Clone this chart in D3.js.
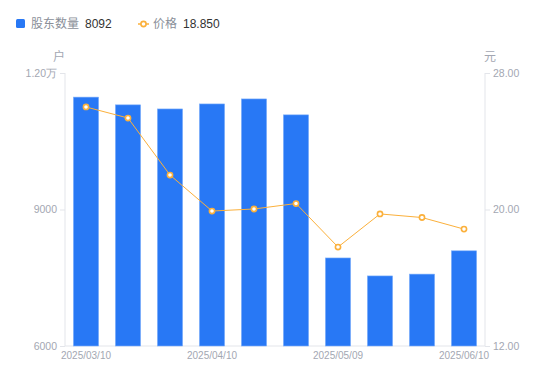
<!DOCTYPE html>
<html>
<head>
<meta charset="utf-8">
<script src="https://cdn.jsdelivr.net/npm/d3@7"></script>
<style>
  body { margin: 0; background: #fff; }
  svg { font-family: "Liberation Sans", "Noto Sans CJK SC", sans-serif; }
</style>
</head>
<body>
<div id="chart"></div>
<script>
// data
var dates = ['2025/03/10','2025/03/20','2025/03/31','2025/04/10','2025/04/18','2025/04/30','2025/05/09','2025/05/20','2025/05/30','2025/06/10'];
var holders = [11470, 11300, 11210, 11320, 11430, 11080, 7935, 7540, 7580, 8092];
var prices = [26.01, 25.36, 22.02, 19.91, 20.03, 20.35, 17.80, 19.74, 19.53, 18.85];
var leftTicks = [6000, 9000, 12000];
var rightTicks = [12, 20, 28];
var shownDates = ['2025/03/10','2025/04/10','2025/05/09','2025/06/10'];

var W = 550, H = 381;
var mLeft = 65, mRight = 485, mTop = 73, mBottom = 346;
var barColor = '#2878f5', lineColor = '#fbb03b', textColor = '#a3a7b2', axisColor = '#e3e5ea';

var svg = d3.select('#chart').append('svg')
	.attr('width', W)
	.attr('height', H);

var x = d3.scaleBand()
	.domain(dates)
	.range([mLeft, mRight])
	.paddingInner(0.4)
	.paddingOuter(0.2);

var yL = d3.scaleLinear().domain([6000, 12000]).range([mBottom, mTop]);
var yR = d3.scaleLinear().domain([12, 28]).range([mBottom, mTop]);

// axes
var leftAxis = d3.axisLeft(yL)
	.tickValues(leftTicks)
	.tickSize(5)
	.tickPadding(3)
	.tickFormat(function(d) { return d >= 10000 ? (d / 10000).toFixed(2) + '万' : d; });

var rightAxis = d3.axisRight(yR)
	.tickValues(rightTicks)
	.tickSize(5)
	.tickPadding(3)
	.tickFormat(function(d) { return d.toFixed(2); });

var gl = svg.append('g').attr('transform', 'translate(' + mLeft + ',0)').call(leftAxis);
var gr = svg.append('g').attr('transform', 'translate(' + mRight + ',0)').call(rightAxis);

[gl, gr].forEach(function(g) {
	g.select('.domain').attr('stroke', axisColor).attr('d', 'M0,' + mTop + 'V' + mBottom);
	g.selectAll('.tick line').attr('stroke', axisColor);
	g.selectAll('.tick text').attr('fill', textColor).style('font-size', '10.5px');
});

// bottom axis line
svg.append('line')
	.attr('x1', mLeft).attr('x2', mRight)
	.attr('y1', mBottom).attr('y2', mBottom)
	.attr('stroke', axisColor);

// date labels
var xAxis = d3.axisBottom(x).tickValues(shownDates).tickSize(0).tickPadding(6);
var gx = svg.append('g').attr('transform', 'translate(0,' + mBottom + ')').call(xAxis);
gx.select('.domain').remove();
gx.selectAll('.tick text').attr('fill', textColor).style('font-size', '10px');

// unit labels
svg.append('text').attr('x', 59).attr('y', 61).attr('text-anchor', 'middle')
	.attr('fill', textColor).style('font-size', '12px').text('户');
svg.append('text').attr('x', 490).attr('y', 61).attr('text-anchor', 'middle')
	.attr('fill', textColor).style('font-size', '12px').text('元');

// bars
svg.append('g').selectAll('rect')
	.data(holders)
	.join('rect')
	.attr('x', function(d, i) { return x(dates[i]); })
	.attr('y', function(d) { return yL(d); })
	.attr('width', x.bandwidth())
	.attr('height', function(d) { return mBottom - yL(d); })
	.attr('fill', barColor)
	.attr('stroke', '#7fb0fa')
	.attr('stroke-width', 0.6);

// price line
var line = d3.line()
	.x(function(d, i) { return x(dates[i]) + x.bandwidth() / 2; })
	.y(function(d) { return yR(d); });

svg.append('path')
	.datum(prices)
	.attr('d', line)
	.attr('fill', 'none')
	.attr('stroke', lineColor)
	.attr('stroke-width', 1);

svg.append('g').selectAll('circle')
	.data(prices)
	.join('circle')
	.attr('cx', function(d, i) { return x(dates[i]) + x.bandwidth() / 2; })
	.attr('cy', function(d) { return yR(d); })
	.attr('r', 2.6)
	.attr('fill', '#fff')
	.attr('stroke', lineColor)
	.attr('stroke-width', 1.6);

// legend
var lg = svg.append('g').style('font-size', '12px');
lg.append('rect').attr('x', 16).attr('y', 19).attr('width', 9).attr('height', 9).attr('rx', 1.5).attr('fill', barColor);
lg.append('text').attr('x', 31).attr('y', 28).attr('fill', '#8a8f99').text('股东数量');
lg.append('text').attr('x', 85).attr('y', 28).attr('fill', '#333').text(holders[holders.length - 1]);

lg.append('line').attr('x1', 138).attr('x2', 149).attr('y1', 24).attr('y2', 24).attr('stroke', lineColor).attr('stroke-width', 1.5);
lg.append('circle').attr('cx', 143.5).attr('cy', 24).attr('r', 2.6).attr('fill', '#fff').attr('stroke', lineColor).attr('stroke-width', 1.6);
lg.append('text').attr('x', 153).attr('y', 28).attr('fill', '#8a8f99').text('价格');
lg.append('text').attr('x', 183).attr('y', 28).attr('fill', '#333').text(prices[prices.length - 1].toFixed(3));
</script>
</body>
</html>
